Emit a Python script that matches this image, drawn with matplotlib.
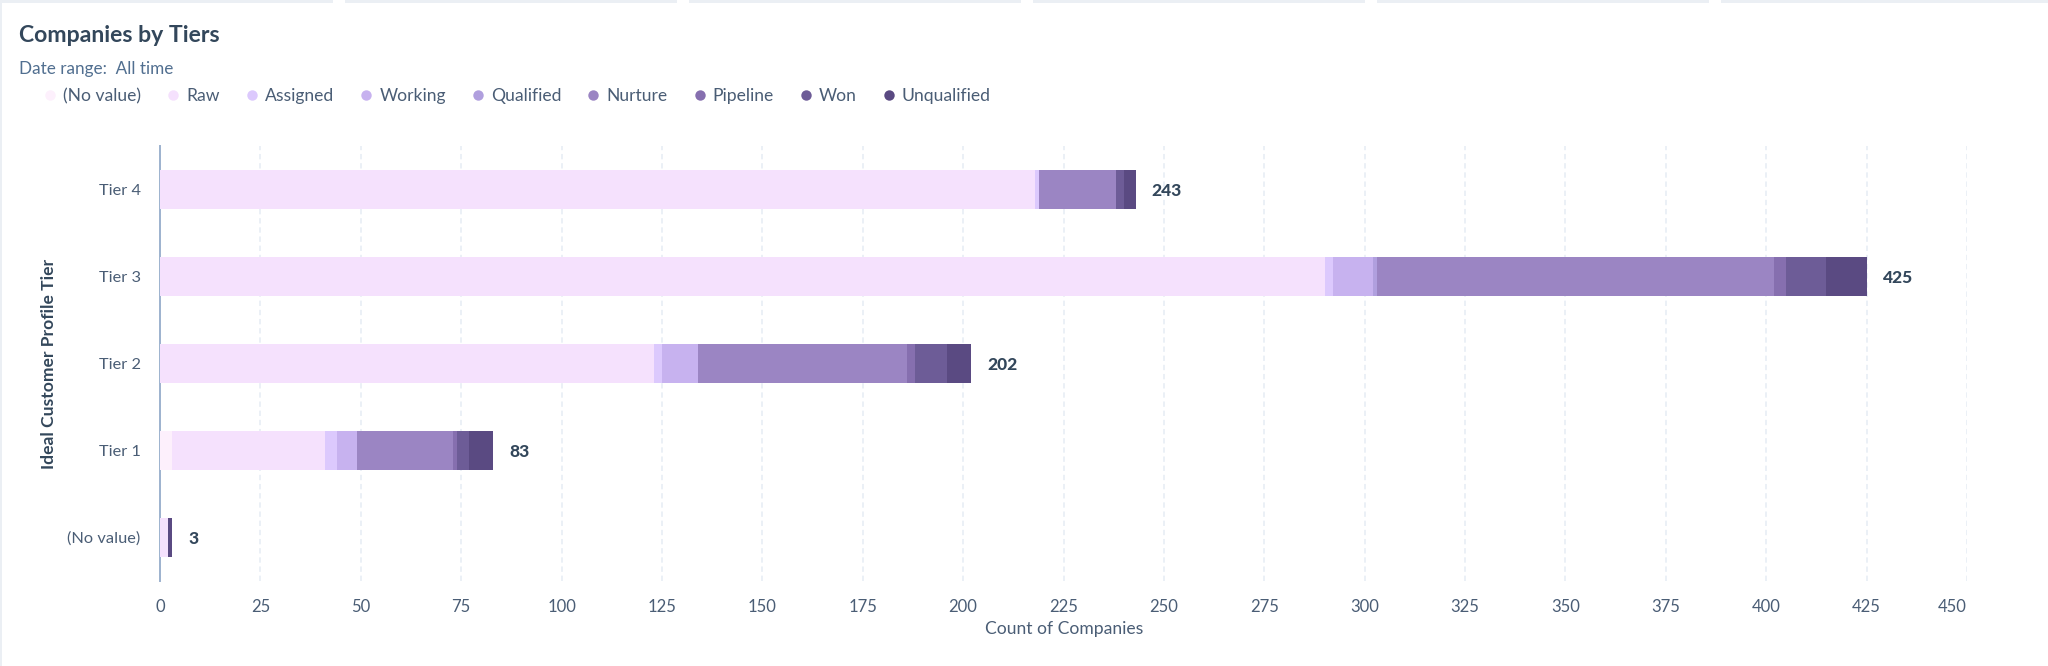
import matplotlib
matplotlib.use("Agg")
import matplotlib.pyplot as plt
from matplotlib.lines import Line2D
from matplotlib.patches import Rectangle
import numpy as np

plt.rcParams['font.family'] = ['Lato', 'DejaVu Sans']

# Data, rows bottom to top
tiers = ['(No value)', 'Tier 1', 'Tier 2', 'Tier 3', 'Tier 4']
no_value = [0, 3, 0, 0, 0]
raw = [2, 38, 123, 290, 218]
assigned = [0, 3, 2, 2, 1]
working = [0, 5, 9, 10, 0]
qualified = [0, 0, 0, 1, 0]
nurture = [0, 24, 52, 99, 19]
pipeline = [0, 1, 2, 3, 0]
won = [0, 3, 8, 10, 2]
unqualified = [1, 6, 6, 10, 3]

stages = ['(No value)', 'Raw', 'Assigned', 'Working', 'Qualified',
          'Nurture', 'Pipeline', 'Won', 'Unqualified']
stage_values = [no_value, raw, assigned, working, qualified,
                nurture, pipeline, won, unqualified]
stage_colors = ['#FDF0FC', '#F5E1FD', '#DCC9FD', '#C7B2EF', '#B09FDE',
                '#9B85C3', '#866FAF', '#6D5C97', '#5A4A82']
x_ticks = list(range(0, 451, 25))

W, H = 2048, 666
DARK = '#33475B'
MID = '#4A5D75'
BLUE = '#516F90'

fig = plt.figure(figsize=(W / 100, H / 100), dpi=100, facecolor='white')
ax = fig.add_axes([160 / W, 1 - 581 / H, (1967 - 160) / W, (581 - 146) / H])

# Stacked bars
left = np.zeros(len(tiers))
for values, color in zip(stage_values, stage_colors):
    ax.barh(tiers, values, left=left, height=39 / 87, color=color, linewidth=0, zorder=3)
    left += np.array(values)

# Totals
for i, total in enumerate(left):
    ax.annotate(f'{int(total)}', (total, i), xytext=(11.5, -1), textcoords='offset points',
                ha='left', va='center', fontsize=12.5, fontweight='black', color=DARK)

ax.set_xlim(0, 450)
ax.set_ylim(-0.5, 4.5)
ax.set_xticks(x_ticks)
ax.grid(axis='x', color='#E5ECF4', linestyle=(0, (3.5, 2.5)), linewidth=1.1, zorder=0)
ax.set_axisbelow(True)

for side in ['top', 'right', 'bottom']:
    ax.spines[side].set_visible(False)
ax.spines['left'].set_color('#9DB2CE')
ax.spines['left'].set_linewidth(1.4)

ax.tick_params(axis='both', length=0, labelsize=12, labelcolor=MID)
ax.tick_params(axis='x', pad=13)
ax.tick_params(axis='y', pad=14, labelsize=11.8)
ax.get_xticklabels()[-1].set_ha('right')

fig.text(1064 / W, 1 - 629 / H, 'Count of Companies', ha='center', va='center',
         fontsize=12.6, color=MID)
fig.text(49 / W, 1 - 364 / H, 'Ideal Customer Profile Tier', rotation=90, ha='center', va='center',
         fontsize=12.6, fontweight='bold', color=DARK)

# Header
fig.text(19 / W, 1 - 36 / H, 'Companies by Tiers', ha='left', va='center',
         fontsize=16.6, fontweight='bold', color=DARK)
fig.text(19 / W, 1 - 69 / H, 'Date range:  All time', ha='left', va='center',
         fontsize=12.3, color=BLUE)

handles = [Line2D([], [], linestyle='none', marker='o', markersize=7.5,
                  markerfacecolor=c, markeredgewidth=0) for c in stage_colors]
fig.legend(handles, stages, ncol=9, frameon=False, loc='center left',
           bbox_to_anchor=(38 / W, 1 - 96 / H), fontsize=12.6, labelcolor=MID,
           handletextpad=0.05, columnspacing=1.125, handlelength=1.4, borderpad=0, borderaxespad=0)

# Card edge showing at top and left
for x0, x1 in [(0, 333), (345, 677), (689, 1021), (1033, 1365), (1377, 1709), (1721, W)]:
    fig.add_artist(Rectangle((x0 / W, 1 - 3 / H), (x1 - x0) / W, 3 / H, transform=fig.transFigure,
                             facecolor='#EBEFF4', linewidth=0))
fig.add_artist(Rectangle((0, 0), 2 / W, 1, transform=fig.transFigure, facecolor='#EBEFF4', linewidth=0))

fig.savefig('out.png', dpi=100)
